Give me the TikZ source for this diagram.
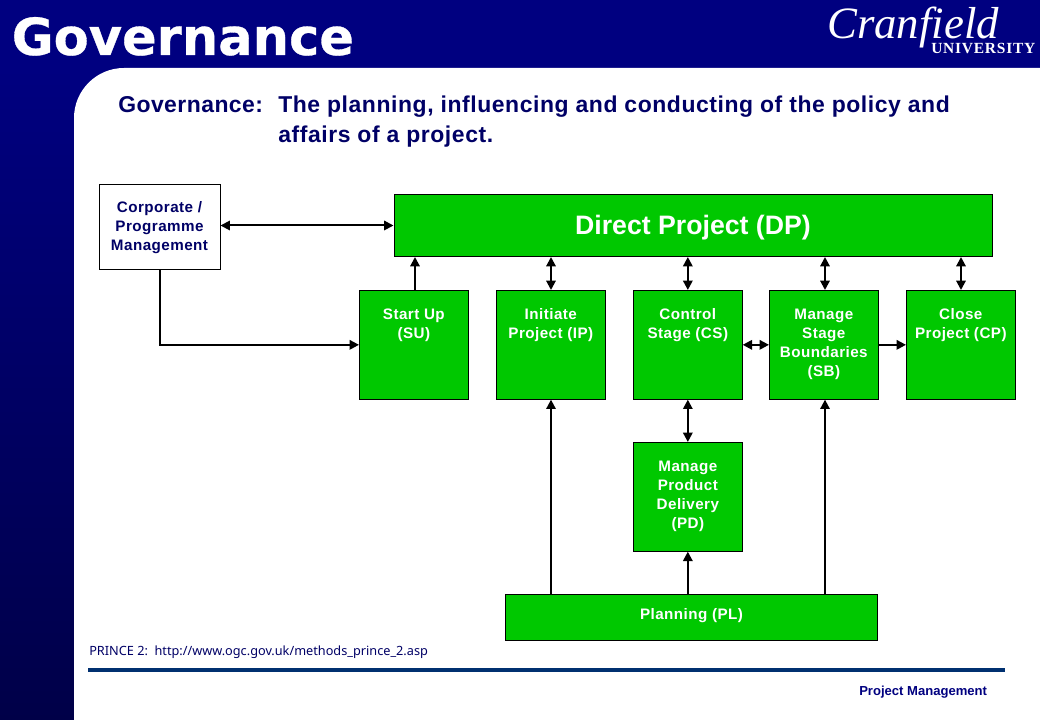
\documentclass[tikz,border=0pt]{standalone}
\usepackage{fontspec}
\setmainfont{Liberation Sans}
\newfontfamily\titlefont{DejaVu Sans}
\newfontfamily\urlfont{Noto Sans}
\newfontfamily\logofont{Liberation Serif}
\usetikzlibrary{arrows.meta,positioning}
\definecolor{navy}{RGB}{0,0,128}
\definecolor{navyb}{RGB}{0,0,72}
\definecolor{bodyc}{RGB}{0,0,102}
\definecolor{boxg}{RGB}{0,200,0}
\definecolor{rulec}{RGB}{0,48,112}
\newcommand{\topbox}[4]{\parbox[c][#2][t]{#1}{\centering\vspace*{#3}\strut #4}}
\tikzset{
  stagebox/.style={draw=black,line width=0.75pt,fill=boxg,text=white,font=\fontsize{11.4}{14.25}\selectfont\bfseries\addfontfeature{LetterSpace=3},inner sep=0pt,anchor=north west,align=center},
  conn/.style={line width=1.5pt,black,-{Triangle[length=7pt,width=7pt]}},
  bconn/.style={line width=1.5pt,black,{Triangle[length=7pt,width=7pt]}-{Triangle[length=7pt,width=7pt]}},
  plain/.style={inner sep=0pt,anchor=base west}
}
\begin{document}
\begin{tikzpicture}[x=0.75pt,y=-0.75pt]
\useasboundingbox (0,0) rectangle (1040,720);
% backgrounds
\fill[navy] (0,0) rectangle (1040,68);
\shade[top color=navy,bottom color=navyb] (0,67.5) rectangle (74,720);
\fill[navy] (70,67) rectangle (130,120);
\fill[white] (74,720) -- (74,118) arc[start angle=180,end angle=90,radius=50*0.75pt] -- (1040,68) -- (1040,720) -- cycle;
% title and logo
\node[plain,text=white,font=\titlefont\fontsize{38.3}{38.3}\selectfont\bfseries] (title) at (11.5,55) {\addfontfeature{FakeBold=0.6}Governance};
\node[plain,text=white,font=\logofont\itshape\fontsize{33.6}{33.6}\selectfont] (logoa) at (827,39) {Cranfield};
\node[plain,text=white,font=\logofont\bfseries\fontsize{11.6}{11.6}\selectfont] (logob) at (931,54) {\addfontfeature{LetterSpace=5}UNIVERSITY};
% definition
\node[plain,text=bodyc,font=\fontsize{17.2}{17.2}\selectfont\bfseries] (defa) at (118,113) {\addfontfeature{LetterSpace=2}Governance:};
\node[plain,text=bodyc,font=\fontsize{17.2}{17.2}\selectfont\bfseries] (defb) at (278,113) {\addfontfeature{LetterSpace=2.5}The planning, influencing and conducting of the policy and};
\node[plain,text=bodyc,font=\fontsize{17.2}{17.2}\selectfont\bfseries] (defc) at (278,143) {\addfontfeature{LetterSpace=2.5}affairs of a project.};
% boxes
\node[stagebox,fill=white,text=bodyc,minimum width=121*0.75pt,minimum height=85.5*0.75pt,anchor=center,align=center] (corp) at (159.5,227.2) {Corporate /\\Programme\\Management};
\node[stagebox,minimum width=598*0.75pt,minimum height=62*0.75pt,anchor=center,font=\fontsize{20}{24}\selectfont\bfseries,text height=12.8pt,text depth=0pt] (dp) at (693,225.5) {Direct Project (DP)};
\node[stagebox] (su) at (359,290) {\topbox{81.5pt}{81.5pt}{11.5pt}{Start Up\\(SU)}};
\node[stagebox] (ip) at (496,290) {\topbox{81.5pt}{81.5pt}{11.5pt}{Initiate\\Project (IP)}};
\node[stagebox] (cs) at (633,290) {\topbox{81.5pt}{81.5pt}{11.5pt}{Control\\Stage (CS)}};
\node[stagebox] (sb) at (769,290) {\topbox{81.5pt}{81.5pt}{11.5pt}{Manage\\Stage\\Boundaries\\(SB)}};
\node[stagebox] (cp) at (906,290) {\topbox{81.5pt}{81.5pt}{11.5pt}{Close\\Project (CP)}};
\node[stagebox] (pd) at (633,442) {\topbox{81.5pt}{81.5pt}{11.5pt}{Manage\\Product\\Delivery\\(PD)}};
\node[stagebox] (pl) at (505,594) {\topbox{279pt}{34.8pt}{9pt}{Planning (PL)}};
% reference
\node[plain,text=bodyc,font=\urlfont\fontsize{9.54}{9.54}\selectfont] (ref) at (89,655) {PRINCE 2:\ \ http://www.ogc.gov.uk/methods\_prince\_2.asp};
\coordinate (rulea) at (88,670);
\coordinate (ruleb) at (1005,670);
\draw[rulec,line width=2.3pt] (rulea) -- (ruleb);
\node[plain,text=navy,font=\fontsize{9.8}{9.8}\selectfont\bfseries] (pm) at (859,695) {Project Management};
% connectors
\draw[bconn] (corp.east |- dp.west) -- (dp.west);
\draw[conn] (corp.south) |- (su.west);
\draw[conn] (415,290 |- su.north) -- (415,256 |- dp.south);
\draw[bconn] (551,290 |- ip.north) -- (551,256 |- dp.south);
\draw[bconn] (cs.north) -- (cs.north |- dp.south);
\draw[bconn] (825,290 |- sb.north) -- (825,256 |- dp.south);
\draw[bconn] (961,290 |- cp.north) -- (961,256 |- dp.south);
\draw[bconn] (cs.east) -- (sb.west);
\draw[conn] (sb.east) -- (cp.west);
\draw[bconn] (cs.south) -- (pd.north);
\draw[conn] (pd.south |- pl.north) -- (pd.south);
\draw[conn] (551,594 |- pl.north) -- (551,399 |- ip.south);
\draw[conn] (825,594 |- pl.north) -- (825,399 |- sb.south);
\end{tikzpicture}
\end{document}
